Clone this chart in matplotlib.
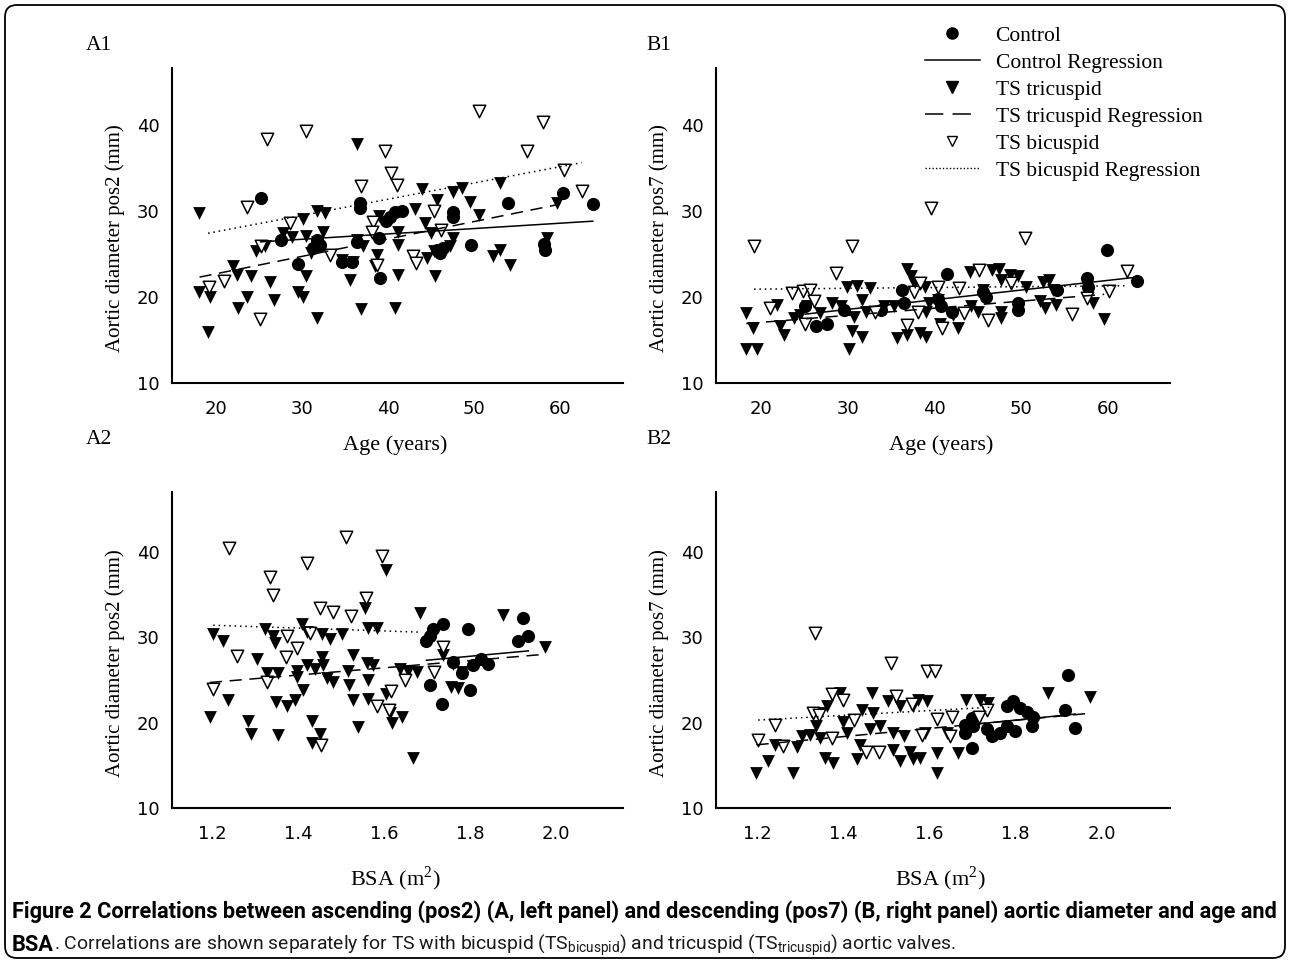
import numpy as np
import matplotlib
matplotlib.use("Agg")
import matplotlib.pyplot as plt
from matplotlib.lines import Line2D
from matplotlib.patches import FancyBboxPatch

# ---- data (x, aortic diameter mm) ----
a1_ctrl = [(25.2, 31.5), (36.7, 30.9), (36.7, 30.3), (54.0, 30.9), (60.3, 32.1), (63.8, 30.8),
           (47.6, 29.9), (47.6, 29.3), (40.8, 29.9), (41.6, 30.0), (40.2, 29.3), (39.8, 28.8),
           (27.6, 26.6), (31.7, 26.6), (32.1, 26.0), (31.3, 25.7), (38.9, 26.8), (36.4, 26.4),
           (49.7, 26.0), (58.1, 26.2), (58.3, 25.5), (29.6, 23.8), (34.6, 24.1), (35.8, 24.1),
           (39.1, 22.2), (46.4, 25.7), (45.7, 25.5), (46.1, 25.1)]
a1_tri = [(18.1, 29.8), (36.4, 37.8), (44.0, 32.5), (47.5, 32.2), (48.6, 32.7), (53.0, 33.2),
          (49.5, 31.0), (50.6, 29.5), (45.7, 31.3), (43.1, 30.2), (31.7, 30.0), (32.7, 29.7),
          (30.1, 29.1), (38.9, 29.4), (44.3, 28.6), (59.6, 30.9), (27.8, 27.4), (28.8, 27.0),
          (30.5, 27.1), (32.5, 27.6), (41.2, 27.5), (45.0, 27.4), (47.6, 26.8), (36.4, 26.6),
          (37.1, 25.9), (31.7, 26.4), (31.1, 25.1), (24.7, 25.3), (25.7, 25.9), (38.7, 24.9),
          (41.2, 26.0), (44.5, 24.5), (45.3, 25.3), (47.2, 25.9), (52.2, 24.7), (53.0, 25.5),
          (54.2, 23.7), (58.5, 26.8), (34.6, 24.3), (35.9, 24.1), (38.5, 23.6), (22.0, 23.6),
          (22.4, 22.6), (24.1, 22.4), (26.3, 21.7), (30.5, 22.4), (35.6, 22.0), (41.2, 22.6),
          (45.5, 22.4), (18.1, 20.6), (19.3, 20.0), (23.6, 20.0), (26.7, 19.6), (29.6, 20.6),
          (30.1, 20.0), (22.6, 18.7), (36.9, 18.6), (40.8, 18.7), (31.7, 17.6), (19.1, 15.9)]
a1_bic = [(25.9, 38.4), (30.5, 39.3), (50.6, 41.6), (58.0, 40.3), (39.7, 37.0), (56.2, 36.9),
          (40.3, 34.4), (41.0, 33.0), (36.9, 32.9), (60.5, 34.8), (62.5, 32.3), (23.6, 30.5),
          (28.6, 28.6), (45.3, 30.0), (38.3, 28.7), (38.1, 27.6), (46.2, 27.8), (25.3, 25.9),
          (33.3, 24.9), (42.9, 24.7), (43.3, 23.9), (38.7, 23.7), (21.0, 21.8), (19.2, 21.2),
          (25.1, 17.4)]

b1_ctrl = [(41.5, 22.7), (36.3, 20.8), (25.1, 18.9), (26.3, 16.6), (27.6, 16.9), (29.6, 18.5),
           (33.8, 18.5), (36.5, 19.3), (40.4, 19.8), (40.8, 18.9), (42.0, 18.3), (45.6, 20.6),
           (46.0, 20.0), (49.6, 19.3), (49.7, 18.5), (54.1, 20.8), (57.6, 22.2), (57.7, 21.2),
           (59.9, 25.5), (63.4, 21.9)]
b1_tri = [(18.3, 18.1), (19.1, 16.4), (18.3, 14.0), (19.5, 13.9), (21.8, 19.1), (22.2, 16.6),
          (22.6, 15.6), (23.8, 17.5), (24.5, 17.9), (25.3, 18.9), (26.8, 18.1), (28.2, 19.3),
          (29.2, 18.9), (29.9, 21.2), (31.1, 21.3), (32.6, 21.0), (31.7, 19.7), (30.7, 17.7),
          (30.5, 16.0), (31.7, 15.4), (30.1, 14.0), (32.1, 18.3), (34.2, 18.9), (35.4, 18.9),
          (35.7, 15.2), (36.9, 15.6), (38.4, 15.8), (39.0, 15.4), (36.9, 23.3), (37.3, 22.4),
          (37.7, 21.6), (38.9, 21.2), (39.4, 19.3), (40.4, 19.7), (39.0, 18.3), (40.6, 16.9),
          (42.1, 17.9), (42.7, 16.4), (44.1, 22.9), (44.2, 18.9), (45.0, 18.3), (45.6, 20.8),
          (46.6, 23.1), (47.5, 23.3), (47.7, 18.3), (47.7, 17.5), (47.7, 22.0), (48.7, 22.6),
          (49.7, 22.4), (50.6, 21.2), (52.2, 19.5), (52.8, 18.7), (53.2, 22.0), (54.0, 19.1),
          (52.5, 21.7), (53.7, 20.8), (58.3, 19.3), (59.6, 17.4)]
b1_bic = [(19.2, 25.9), (30.5, 25.9), (39.6, 30.3), (50.5, 26.8), (28.6, 22.8), (23.6, 20.4),
          (24.9, 20.7), (25.7, 20.8), (21.0, 18.7), (26.1, 19.5), (25.1, 16.9), (33.2, 18.2),
          (37.7, 20.6), (38.4, 21.6), (40.4, 21.1), (42.9, 21.0), (45.2, 23.1), (38.1, 18.3),
          (36.9, 16.7), (40.9, 16.4), (43.4, 18.1), (46.2, 17.3), (48.9, 21.6), (55.9, 18.0),
          (57.6, 19.9), (60.1, 20.7), (62.2, 23.0)]

a2_ctrl = [(1.924, 32.3), (1.796, 31.0), (1.738, 31.6), (1.715, 31.0), (1.707, 30.2), (1.699, 29.6),
           (1.912, 29.6), (1.936, 30.2), (1.827, 27.5), (1.808, 26.7), (1.843, 26.9), (1.781, 25.8),
           (1.707, 24.4), (1.800, 23.8), (1.734, 22.2), (1.761, 27.1)]
a2_tri = [(1.606, 37.9), (1.556, 33.4), (1.684, 32.8), (1.876, 32.6), (1.203, 30.4), (1.226, 29.6),
          (1.323, 31.0), (1.343, 30.2), (1.346, 29.3), (1.409, 31.5), (1.420, 30.6), (1.455, 30.4),
          (1.474, 29.8), (1.502, 30.4), (1.564, 31.1), (1.583, 31.1), (1.304, 27.5), (1.327, 25.8),
          (1.354, 25.8), (1.397, 26.1), (1.420, 26.7), (1.455, 27.7), (1.459, 26.7), (1.467, 25.2),
          (1.482, 24.8), (1.440, 26.3), (1.529, 27.9), (1.516, 26.1), (1.560, 27.0), (1.575, 26.7),
          (1.564, 25.0), (1.519, 24.4), (1.397, 25.4), (1.412, 23.8), (1.637, 26.3), (1.656, 26.1),
          (1.676, 25.9), (1.738, 27.9), (1.761, 26.9), (1.781, 25.9), (1.757, 24.2), (1.773, 24.0),
          (1.529, 22.7), (1.564, 22.8), (1.606, 23.4), (1.350, 22.4), (1.374, 21.9), (1.393, 22.6),
          (1.238, 22.6), (1.195, 20.6), (1.284, 20.2), (1.292, 18.7), (1.354, 18.5), (1.432, 20.2),
          (1.451, 18.7), (1.432, 17.6), (1.540, 19.5), (1.614, 21.1), (1.619, 19.9), (1.641, 20.7),
          (1.668, 15.9), (1.974, 28.8)]
a2_bic = [(1.240, 40.4), (1.511, 41.7), (1.595, 39.5), (1.422, 38.7), (1.335, 37.1), (1.341, 34.9),
          (1.558, 34.6), (1.451, 33.4), (1.482, 33.0), (1.523, 32.5), (1.375, 30.2), (1.428, 30.5),
          (1.259, 27.8), (1.397, 28.7), (1.372, 27.7), (1.738, 28.9), (1.202, 23.9), (1.327, 24.8),
          (1.649, 25.0), (1.716, 25.9), (1.616, 23.7), (1.583, 21.9), (1.612, 21.5), (1.453, 17.4)]

b2_ctrl = [(1.922, 25.6), (1.915, 21.5), (1.938, 19.4), (1.795, 22.5), (1.779, 21.9), (1.810, 21.7),
           (1.826, 21.3), (1.841, 20.7), (1.837, 19.6), (1.779, 19.6), (1.798, 19.0), (1.763, 18.8),
           (1.744, 18.4), (1.733, 19.2), (1.698, 17.0), (1.683, 19.7), (1.683, 18.8), (1.698, 20.5),
           (1.702, 19.6)]
b2_tri = [(1.199, 14.1), (1.226, 15.5), (1.284, 14.1), (1.242, 17.4), (1.292, 17.2), (1.304, 18.4),
          (1.323, 18.5), (1.346, 21.1), (1.362, 21.9), (1.393, 23.5), (1.338, 19.6), (1.346, 18.2),
          (1.358, 15.8), (1.377, 15.3), (1.400, 20.1), (1.408, 18.8), (1.431, 15.7), (1.443, 21.5),
          (1.439, 17.4), (1.466, 23.5), (1.470, 21.1), (1.462, 19.2), (1.485, 19.6), (1.505, 22.5),
          (1.532, 21.9), (1.516, 16.8), (1.532, 15.5), (1.516, 18.8), (1.540, 18.4), (1.555, 16.6),
          (1.563, 15.7), (1.578, 15.8), (1.563, 21.9), (1.574, 22.7), (1.594, 22.5), (1.590, 18.8),
          (1.617, 16.5), (1.617, 14.1), (1.640, 18.8), (1.667, 16.4), (1.686, 22.7), (1.717, 22.7),
          (1.737, 22.3), (1.690, 19.6), (1.876, 23.5), (1.973, 23.0)]
b2_bic = [(1.335, 30.5), (1.510, 27.0), (1.594, 26.1), (1.613, 26.0), (1.242, 19.7), (1.203, 18.0),
          (1.261, 17.3), (1.373, 23.3), (1.400, 22.7), (1.331, 21.1), (1.343, 20.9), (1.523, 23.1),
          (1.559, 22.2), (1.424, 20.3), (1.373, 18.2), (1.454, 16.6), (1.482, 16.6), (1.582, 18.6),
          (1.617, 20.4), (1.652, 20.7), (1.648, 18.4), (1.733, 21.5), (1.714, 20.7)]

# regression lines: (x0, y0, x1, y1)
a1_reg = {"ctrl": (25.2, 26.4, 63.8, 28.8), "tri": (18.1, 22.3, 59.6, 30.7), "bic": (19.1, 27.4, 62.5, 35.6)}
b1_reg = {"ctrl": (25.1, 18.0, 63.4, 22.3), "tri": (18.3, 16.9, 59.6, 20.3), "bic": (19.2, 20.9, 62.2, 21.3)}
a2_reg = {"ctrl": (1.699, 27.3, 1.936, 28.4), "tri": (1.195, 24.7, 1.974, 28.0), "bic": (1.203, 31.4, 1.680, 30.6)}
b2_reg = {"ctrl": (1.683, 19.7, 1.938, 21.0), "tri": (1.199, 17.4, 1.973, 21.1), "bic": (1.203, 20.3, 1.741, 21.8)}

legend_labels = ["Control", "Control Regression", "TS tricuspid", "TS tricuspid Regression",
                 "TS bicuspid", "TS bicuspid Regression"]

SERIF = "Liberation Serif"
DASH = (0, (8, 5))
DOT = (0, (1, 2.5))
W, H = 1290, 964

fig = plt.figure(figsize=(12.9, 9.64), dpi=100)
fig.patch.set_facecolor("white")


def panel(rect, ctrl, tri, bic, reg, xlim, ylim, xticks, xfmt, xlabel, ylabel, tag, tag_xy, xlab_y):
    ax = fig.add_axes(rect)
    c = np.array(ctrl).T
    t = np.array(tri).T
    b = np.array(bic).T
    ax.scatter(c[0], c[1], s=90, marker="o", color="black", linewidths=0, zorder=3)
    ax.scatter(t[0], t[1], s=85, marker="v", color="black", linewidths=0, zorder=3)
    ax.scatter(b[0], b[1], s=80, marker="v", facecolor="white", edgecolor="black",
               linewidths=1.1, zorder=4)
    for key, ls in (("ctrl", "-"), ("tri", DASH), ("bic", DOT)):
        x0, y0, x1, y1 = reg[key]
        ax.plot([x0, x1], [y0, y1], color="black", lw=1.1, linestyle=ls, zorder=5)
    ax.set_xlim(*xlim)
    ax.set_ylim(*ylim)
    ax.set_xticks(xticks)
    ax.set_xticklabels([xfmt.format(v) for v in xticks])
    ax.set_yticks([10, 20, 30, 40])
    ax.tick_params(length=0, labelsize=13)
    ax.tick_params(axis="x", pad=12)
    ax.tick_params(axis="y", pad=9)
    for s in ("top", "right"):
        ax.spines[s].set_visible(False)
    for s in ("left", "bottom"):
        ax.spines[s].set_linewidth(1.5)
    ax.set_xlabel(xlabel, family=SERIF, fontsize=16, va="center")
    ax.set_ylabel(ylabel, family=SERIF, fontsize=15)
    ax.xaxis.set_label_coords(0.495, xlab_y)
    ax.yaxis.set_label_coords(-0.104, 0.46)
    fig.text(tag_xy[0] / W, 1 - tag_xy[1] / H, tag, family=SERIF, fontsize=15.5,
             ha="left", va="center")
    return ax


age_ticks = [20, 30, 40, 50, 60]
bsa_ticks = [1.2, 1.4, 1.6, 1.8, 2.0]
bsa_label = r"BSA (m$^{\mathregular{2}}$)"

panel([0.1333, 0.6027, 0.3496, 0.3268], a1_ctrl, a1_tri, a1_bic, a1_reg, (14.9, 67.3), (10, 46.6),
      age_ticks, "{:d}", "Age (years)", "Aortic diameter pos2 (mm)", "A1", (86, 45), -0.197)
panel([0.5550, 0.6027, 0.3520, 0.3268], b1_ctrl, b1_tri, b1_bic, b1_reg, (14.8, 67.2), (10, 46.6),
      age_ticks, "{:d}", "Age (years)", "Aortic diameter pos7 (mm)", "B1", (646, 45), -0.197)
panel([0.1333, 0.1618, 0.3496, 0.3278], a2_ctrl, a2_tri, a2_bic, a2_reg, (1.107, 2.156), (10, 47.0),
      bsa_ticks, "{:.1f}", bsa_label, "Aortic diameter pos2 (mm)", "A2", (86, 440), -0.225)
panel([0.5550, 0.1618, 0.3520, 0.3278], b2_ctrl, b2_tri, b2_bic, b2_reg, (1.105, 2.158), (10, 47.0),
      bsa_ticks, "{:.1f}", bsa_label, "Aortic diameter pos7 (mm)", "B2", (646, 440), -0.225)

handles = [
    Line2D([], [], linestyle="none", marker="o", color="black", markersize=8),
    Line2D([], [], color="black", lw=1.1),
    Line2D([], [], linestyle="none", marker="v", color="black", markersize=8),
    Line2D([], [], color="black", lw=1.1, linestyle=(0, (12, 6))),
    Line2D([], [], linestyle="none", marker="v", markerfacecolor="white",
           markeredgecolor="black", markersize=7, markeredgewidth=1.0),
    Line2D([], [], color="black", lw=1.0, linestyle=(0, (1, 1.5))),
]
fig.legend(handles, legend_labels, loc="upper left", bbox_to_anchor=(0.710, 0.982),
           frameon=False, prop={"family": SERIF, "size": 15.5}, handlelength=2.6,
           handletextpad=0.7, labelspacing=0.32, borderaxespad=0)

# caption, sized so each line spans the same width as in the reference
cap1 = ("Figure 2 Correlations between ascending (pos2) (A, left panel) and descending (pos7) "
        "(B, right panel) aortic diameter and age and")
cap2 = (". Correlations are shown separately for TS with bicuspid (TS$_{\\mathregular{bicuspid}}$) "
        "and tricuspid (TS$_{\\mathregular{tricuspid}}$) aortic valves.")
CAPF = "Roboto"
renderer = fig.canvas.get_renderer()
t1 = fig.text(12 / W, 1 - 912 / H, cap1, family=CAPF, weight="bold", fontsize=12,
              ha="left", va="center")
cap_size = 12 * 1265 / t1.get_window_extent(renderer).width
t1.set_fontsize(cap_size)
t_bsa = fig.text(12 / W, 1 - 945 / H, "BSA", family=CAPF, weight="bold", fontsize=cap_size,
                 ha="left", va="center")
bb = t_bsa.get_window_extent(renderer)
t2 = fig.text(bb.x1 / W, 1 - 945 / H, cap2, family=CAPF, fontsize=12,
              ha="left", va="center", color="#1a1a1a")
t2.set_fontsize(12 * (955 - bb.x1) / t2.get_window_extent(renderer).width)

# rounded frame
frame = FancyBboxPatch((0.05, 0.06), 12.8, 9.53, boxstyle="round,pad=0,rounding_size=0.12",
                       transform=fig.dpi_scale_trans, facecolor="none", edgecolor="black",
                       linewidth=1.3)
fig.patches.append(frame)

fig.savefig("out.png", dpi=100)
